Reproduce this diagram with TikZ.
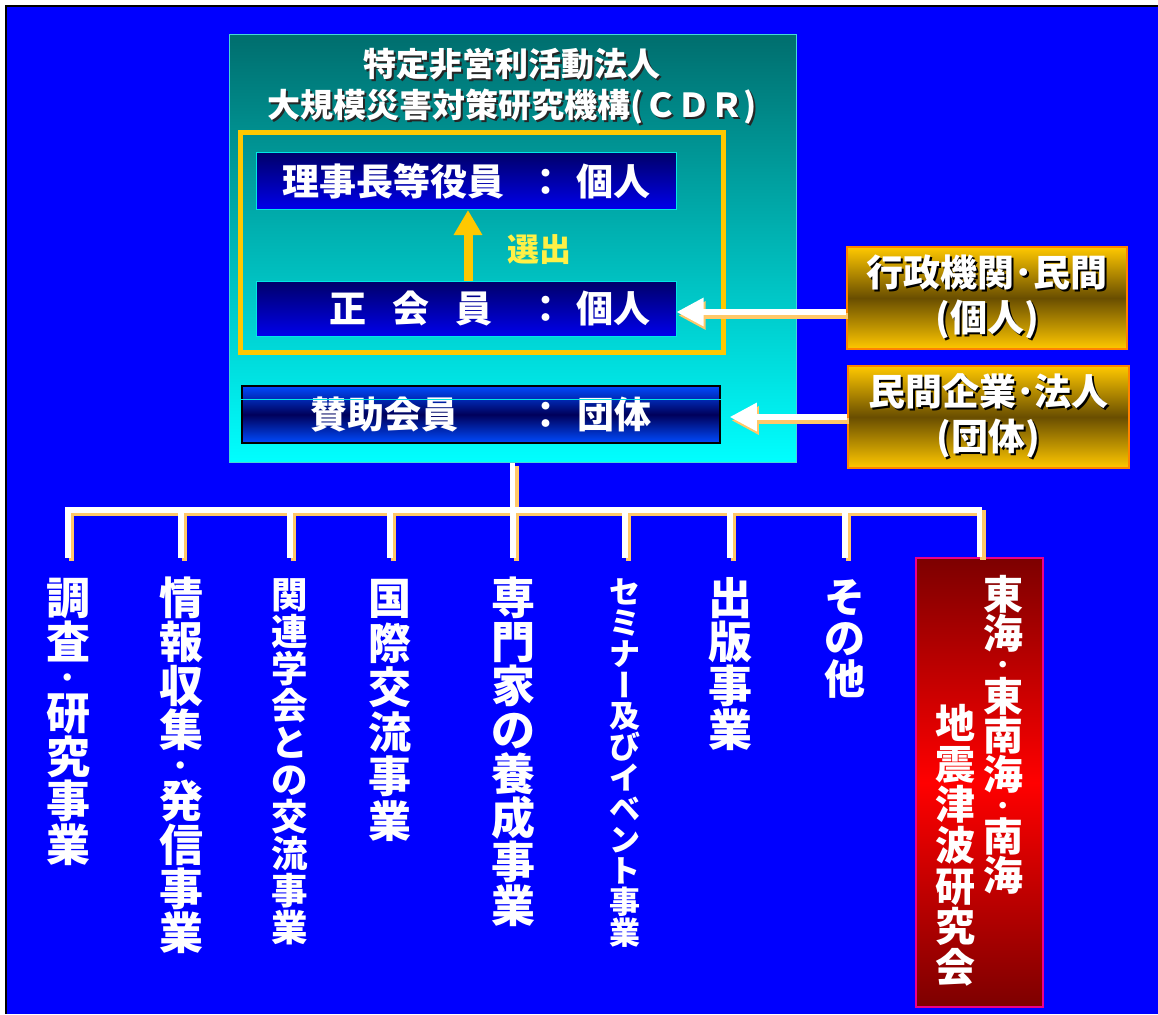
\documentclass[tikz,border=0pt]{standalone}
\usepackage{fontspec}
\setmainfont{Noto Sans CJK JP}
\usepackage{graphicx}
\usetikzlibrary{arrows.meta}

\definecolor{bgblue}{RGB}{0,0,255}
\definecolor{tealtop}{RGB}{0,110,110}
\definecolor{boxcyan}{RGB}{0,255,255}
\definecolor{tealedge}{RGB}{70,215,215}
\definecolor{navytop}{RGB}{0,0,105}
\definecolor{navybot}{RGB}{0,0,235}
\definecolor{navyedge}{RGB}{0,230,230}
\definecolor{suppblue}{RGB}{0,75,255}
\definecolor{suppdark}{RGB}{0,0,90}
\definecolor{gold}{RGB}{255,200,0}
\definecolor{golddark}{RGB}{105,78,0}
\definecolor{goldedge}{RGB}{255,130,0}
\definecolor{darkred}{RGB}{125,0,0}
\definecolor{lineshadow}{RGB}{255,200,105}
\definecolor{pick}{RGB}{255,240,70}

% text with a shadow copy behind it
\newcommand\shc{black}
\newcommand\shx{2pt}
\newcommand\txtsh[1]{\leavevmode\rlap{\kern\shx\lower\shx\hbox{\color{\shc}#1}}#1}

% vertical text: one row per character
\newdimen\vstackw
\newdimen\vstackp
\newcommand\vstack[3]{\vbox{\fontsize{#1}{#2}\selectfont\offinterlineskip
  \vstackw=1em \vstackp=#2pt\relax \expandafter\vstackaux#3\relax}}
\def\vstackaux#1{\ifx#1\relax\else\vstackrow{#1}\expandafter\vstackaux\fi}
\def\vstackrow#1{\ifx#1\vmid\vstackdot\else\vstackbox{.5\vstackp}{#1}\fi}
\def\vstackbox#1#2{\hbox to\vstackw{\hss\vrule height#1 depth#1 width0pt
  \smash{\lower.38em\hbox{#2}}\hss}}
\def\vstackdot{\hbox to\vstackw{\hss\vrule height.3\vstackp depth.3\vstackp width0pt
  \smash{\fontsize{.6\vstackp}{.6\vstackp}\selectfont\lower.38em\hbox{・}}\hss}}
\def\vmid{・}
\def\vchoon{\rotatebox[origin=c]{90}{\vrule height.88em depth.12em width0pt ー}}

\begin{document}
\bfseries
\begin{tikzpicture}[x=1pt, y=-1pt,
    mainbox/.style={draw=tealedge, line width=1pt, top color=tealtop, bottom color=boxcyan,
      minimum width=567pt, minimum height=427pt, inner sep=0pt},
    title/.style={text=white, align=center, font=\fontsize{33}{41}\selectfont,
      execute at begin node={\def\shc{black!85}}},
    electframe/.style={draw=gold, line width=5pt, minimum width=483pt, minimum height=220pt},
    navybox/.style={draw=navyedge, line width=1pt, top color=navytop, bottom color=navybot,
      minimum width=420pt, minimum height=57pt, inner sep=0pt, text=white,
      font=\fontsize{37}{40}\selectfont},
    suppbox/.style={navybox, draw=black, line width=1.5pt, top color=suppblue,
      bottom color=suppblue, middle color=suppdark, minimum width=478pt},
    goldbox/.style={draw=goldedge, line width=1.5pt, top color=gold, bottom color=gold,
      middle color=golddark, minimum width=280pt, minimum height=102pt, text=white,
      align=center, font=\fontsize{37}{45}\selectfont},
    redbox/.style={draw=magenta, line width=1.2pt, top color=darkred, bottom color=darkred,
      middle color=red, minimum width=127pt, minimum height=449pt},
    vcoltext/.style={anchor=north, inner xsep=0pt, inner ysep=18pt, text=white},
    picklabel/.style={text=pick, font=\fontsize{32}{34}\selectfont},
    pickarrow/.style={draw=gold, line width=9pt, -{Triangle[length=25pt,width=27pt]}},
    arrmain/.style={draw=white, line width=6pt, -{Triangle[length=27pt,width=27pt]}},
    arrshadow/.style={arrmain, draw=lineshadow, transform canvas={xshift=2pt,yshift=-3.5pt}},
    treeline/.style={draw=white, line width=5.5pt, line join=miter},
    treeshadow/.style={treeline, draw=lineshadow, transform canvas={xshift=3.5pt,yshift=-3pt}}]

    \useasboundingbox (0,0) rectangle (1158,1014);
    \fill[black] (5,5) rectangle (1158,1014);
    \fill[bgblue] (7,7) rectangle (1158,1014);

    % the organisation
    \node[mainbox] (cdr) at (512.5,248.5) {};
    \node[title] (name) at (512,87) {\txtsh{特定非営利活動法人}\\\txtsh{大規模災害対策研究機構(ＣＤＲ)}};
    \node[electframe] (frame) at (482,242.5) {};
    \node[navybox] (board) at (466,181)
        {\makebox[370pt][r]{理事長等役員\hspace{24pt}：\hspace{12pt}個人}};
    \node[navybox, minimum height=55pt] (regular) at (466,308.5)
        {\makebox[370pt][r]{正\hspace{27pt}会\hspace{26pt}員\hspace{35pt}：\hspace{12pt}個人}};
    \node[suppbox] (support) at (481,414.5) {賛助会員\hspace{70pt}：\hspace{13pt}団体};
    \draw[navyedge, line width=1pt] ([yshift=-14pt]support.north west) -- ([yshift=-14pt]support.north east);

    \draw[pickarrow] ([xshift=2pt]regular.north) -- ([xshift=2pt]board.south);
    \node[picklabel] (pick) at (539,250) {選出};

    % who joins
    \node[goldbox] (gov) at (987,298) {\txtsh{行政機関･民間}\\\txtsh{(個人)}};
    \node[goldbox, minimum width=281pt] (corp) at (988.5,417) {\txtsh{民間企業･法人}\\\txtsh{(団体)}};

    \coordinate (in1) at ([yshift=-3.5pt]regular.east);
    \foreach \lay in {arrshadow, arrmain} {
            \draw[\lay] (gov.west |- in1) -- (in1);
            \draw[\lay, shorten >=9pt] (corp.west) -- (corp.west -| support.east);
        }

    % activities
    \node[vcoltext] (c1) at (68,558) {\vstack{44}{44}{調査\vmid 研究事業}};
    \node[vcoltext] (c2) at (181,558) {\vstack{44}{44}{情報収集\vmid 発信事業}};
    \node[vcoltext] (c3) at (290,558) {\vstack{36.5}{37}{関連学会との交流事業}};
    \node[vcoltext] (c4) at (390,558) {\vstack{43}{44.5}{国際交流事業}};
    \node[vcoltext] (c5) at (513,558) {\vstack{44}{44}{専門家の養成事業}};
    \node[vcoltext] (c6) at (625,558) {\vstack{31}{31}{セミナ\vchoon 及びイベント事業}};
    \node[vcoltext] (c7) at (730,558) {\vstack{44}{44}{出版事業}};
    \node[vcoltext] (c8) at (845,558) {\vstack{41}{41}{その他}};

    \node[redbox] (tokai) at (979.5,782.5) {};
    \node[vcoltext, inner ysep=0pt] (tk1) at (1003,575) {\vstack{40}{39}{東海\vmid 東南海\vmid 南海}};
    \node[vcoltext, inner ysep=0pt] (tk2) at (955,703) {\vstack{40}{40.6}{地震津波研究会}};

    \coordinate (bus) at (0,510);
    \foreach \lay in {treeshadow, treeline} {
            \draw[\lay] (cdr.south) -- (cdr.south |- bus);
            \draw[\lay] (c1.north) |- (bus -| tokai.north) -- (tokai.north);
            \foreach \br in {c2,c3,c4,c5,c6,c7,c8} {
                    \draw[\lay] (\br.north |- bus) -- (\br.north);
                }
        }
\end{tikzpicture}
\end{document}
